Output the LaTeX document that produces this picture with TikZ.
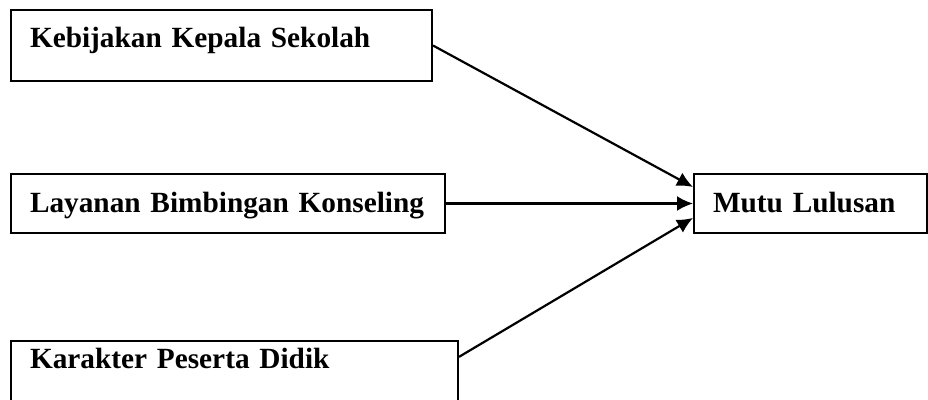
\documentclass[tikz,border=0pt]{standalone}
\usepackage{fontspec}
\setmainfont{Liberation Serif}
\usepackage{tikz}
\usetikzlibrary{arrows.meta,calc,positioning}

\begin{document}
\begin{tikzpicture}[x=1pt, y=-1pt, line width=2pt,
    font=\fontsize{29.3}{34}\selectfont\bfseries]
   \useasboundingbox (0,0) rectangle (928,399);
   \begin{scope}[every node/.style={rectangle,draw=black,fill=white,
       inner xsep=19pt,inner ysep=0pt,align=left,text height=19pt}]
    \node (kks) [minimum width=421pt,minimum height=71pt,text width=383pt,text depth=16pt] at (221.5,45.5) {Kebijakan Kepala Sekolah};
    \node (lbk) [minimum width=434pt,minimum height=59pt,text width=396pt,text depth=2pt] at (228,203.5) {Layanan Bimbingan Konseling};
    \node (kpd) [minimum width=447pt,minimum height=71pt,text width=409pt,text depth=36pt] at (234.5,376.5) {Karakter Peserta Didik};
    \node (ml) [minimum width=233pt,minimum height=59pt,text width=195pt,text depth=2pt] at (810.5,203.5) {Mutu Lulusan};
   \end{scope}
   \begin{scope}[every edge/.style={draw=black,line width=2.2pt,-{Latex[length=16pt,width=15pt]}}]
    \draw (kks.east) edge (ml.172);
    \draw (lbk.east) edge (ml.west);
    \draw (kpd.5) edge (ml.187);
   \end{scope}
\end{tikzpicture}
\end{document}
